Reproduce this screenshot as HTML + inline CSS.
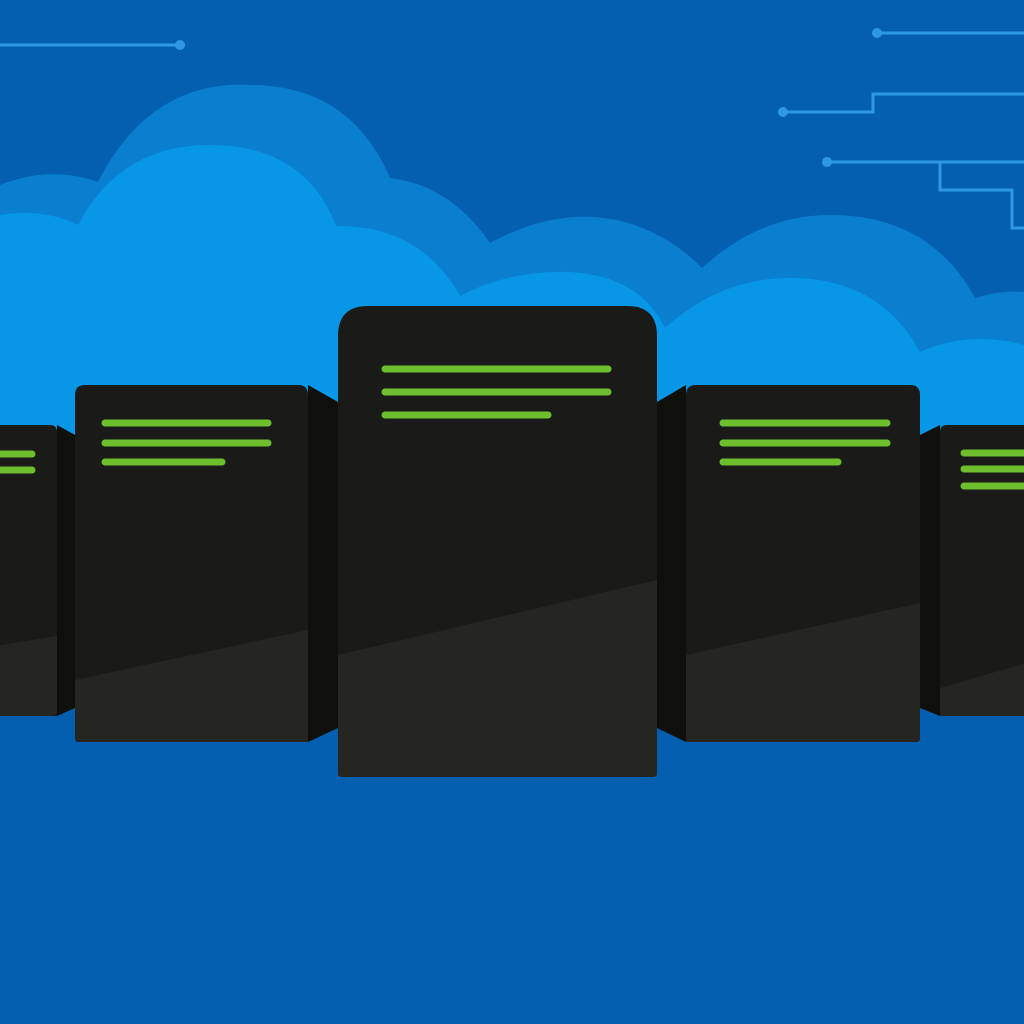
<!DOCTYPE html>
<html><head><meta charset="utf-8"><style>html,body{margin:0;padding:0;background:#055fb0}svg{display:block}</style></head>
<body>
<svg width="1024" height="1024" viewBox="0 0 1024 1024" xmlns="http://www.w3.org/2000/svg">
<rect width="1024" height="1024" fill="#055fb0"/>
<!-- circuit lines -->
<g stroke="#2f98e6" stroke-width="3" fill="none">
<path d="M0 45 H180"/>
<path d="M877 33 H1024"/>
<path d="M783 112 H873 V94 H1024"/>
<path d="M827 162 H1024"/>
<path d="M940 162 V190 H1012 V228 H1024"/>
</g>
<g fill="#2f98e6"><circle cx="180" cy="45" r="5"/><circle cx="877" cy="33" r="5"/><circle cx="783" cy="112" r="5"/><circle cx="827" cy="162" r="5"/></g>
<!-- back cloud -->
<path fill="#0a7fd0" d="M0 185 Q50 165 98 182 Q150 80 250 85 Q350 85 390 178 Q450 185 490 243 Q560 205 625 222 Q670 235 702 268 Q760 215 830 215 Q930 215 975 298 Q1000 290 1024 292 V440 H0 Z"/>
<!-- front cloud -->
<path fill="#0897e6" d="M0 215 Q45 208 78 225 Q120 145 210 145 Q305 145 336 226 Q420 225 460 296 Q510 270 570 272 Q640 276 665 328 Q720 278 790 278 Q880 278 920 352 Q970 330 1024 345 V440 H0 Z"/>
<!-- far left server -->
<path fill="#0f0f0c" d="M57 425 L75 435 L75 708 L57 716 Z"/>
<path fill="#1a1a18" d="M-10 425 H50 Q57 425 57 432 V716 H-10 Z"/>
<path fill="#252522" d="M-10 647 L57 636 V710 Q57 716 50 716 H-10 Z"/>
<!-- far right server -->
<path fill="#0f0f0c" d="M940 425 L920 435 L920 708 L940 716 Z"/>
<path fill="#1a1a18" d="M940 432 Q940 425 947 425 H1030 V716 H940 Z"/>
<path fill="#252522" d="M940 688 L1030 662 V716 H940 Z"/>
<!-- left server -->
<path fill="#0f0f0c" d="M308 385 L338 402 L338 728 L308 742 Z"/>
<path fill="#1a1a18" d="M85 385 H298 Q308 385 308 395 V742 H78 Q75 742 75 738 V395 Q75 385 85 385 Z"/>
<path fill="#252522" d="M75 680 L308 630 V742 H79 Q75 742 75 738 Z"/>
<!-- right server -->
<path fill="#0f0f0c" d="M686 385 L657 402 L657 728 L686 742 Z"/>
<path fill="#1a1a18" d="M696 385 H910 Q920 385 920 395 V738 Q920 742 916 742 H686 V395 Q686 385 696 385 Z"/>
<path fill="#252522" d="M686 655 L920 603 V738 Q920 742 916 742 H686 Z"/>
<!-- center server -->
<path fill="#1a1a18" d="M368 306 H627 Q657 306 657 336 V773 Q657 777 653 777 H342 Q338 777 338 773 V336 Q338 306 368 306 Z"/>
<path fill="#252522" d="M338 655 L657 580 V773 Q657 777 653 777 H342 Q338 777 338 773 Z"/>
<!-- green bars -->
<g stroke="#6dbf2e" stroke-width="7" stroke-linecap="round">
<path d="M385 369 H608 M385 392 H608 M385 415 H548"/>
<path d="M105 423 H268 M105 443 H268 M105 462 H222"/>
<path d="M723 423 H887 M723 443 H887 M723 462 H838"/>
<path d="M-5 454 H32 M-5 470 H32"/>
<path d="M964 453 H1030 M964 469 H1030 M964 486 H1030"/>
</g>
</svg>
</body></html>
